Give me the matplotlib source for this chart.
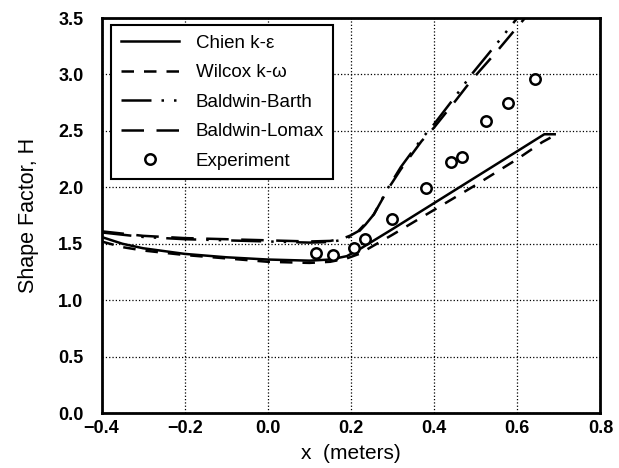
import matplotlib
matplotlib.use('Agg')
from matplotlib import pyplot as plt

plt.rcParams['font.family'] = ['Liberation Sans', 'DejaVu Sans']

# model predictions along the plate
chien_x = [-0.40, -0.35, -0.30, -0.20, -0.10, 0.00, 0.10, 0.15, 0.19, 0.22, 0.30, 0.40, 0.50, 0.60, 0.665, 0.69]
chien_y = [1.56, 1.50, 1.46, 1.41, 1.38, 1.36, 1.35, 1.36, 1.39, 1.45, 1.63, 1.86, 2.09, 2.32, 2.47, 2.47]

wilcox_x = [-0.40, -0.35, -0.30, -0.20, -0.10, 0.00, 0.10, 0.15, 0.19, 0.22, 0.30, 0.40, 0.50, 0.60, 0.66, 0.68]
wilcox_y = [1.52, 1.47, 1.44, 1.40, 1.37, 1.34, 1.33, 1.34, 1.37, 1.41, 1.58, 1.80, 2.02, 2.25, 2.40, 2.44]

barth_x = [-0.40, -0.30, -0.20, -0.10, 0.00, 0.10, 0.15, 0.18, 0.20, 0.217, 0.235, 0.255, 0.29, 0.32, 0.37, 0.40, 0.45, 0.49, 0.55, 0.60, 0.62]
barth_y = [1.60, 1.56, 1.54, 1.53, 1.52, 1.51, 1.515, 1.535, 1.565, 1.60, 1.67, 1.76, 2.00, 2.18, 2.43, 2.56, 2.80, 3.00, 3.27, 3.50, 3.58]

lomax_x = [-0.40, -0.30, -0.20, -0.10, 0.00, 0.10, 0.15, 0.18, 0.20, 0.217, 0.235, 0.255, 0.29, 0.32, 0.37, 0.40, 0.45, 0.49, 0.55, 0.60, 0.63]
lomax_y = [1.61, 1.57, 1.55, 1.54, 1.53, 1.52, 1.525, 1.545, 1.575, 1.61, 1.68, 1.76, 1.99, 2.16, 2.41, 2.53, 2.76, 2.95, 3.20, 3.42, 3.55]

# measured shape factor
exp_x = [0.116, 0.157, 0.207, 0.234, 0.299, 0.38, 0.44, 0.468, 0.525, 0.578, 0.643]
exp_y = [1.42, 1.40, 1.46, 1.54, 1.72, 1.99, 2.22, 2.27, 2.59, 2.75, 2.96]

fig = plt.figure(figsize=(6.19, 4.68), dpi=100)
ax = fig.add_axes([0.164, 0.1175, 0.806, 0.844])

lw = 1.8
ax.plot(chien_x, chien_y, color='black', lw=lw, ls='-', label='Chien k-\u03b5')
ax.plot(wilcox_x, wilcox_y, color='black', lw=lw, ls=(0, (5, 4)), label='Wilcox k-\u03c9')
ax.plot(barth_x, barth_y, color='black', lw=lw, ls=(0, (12, 4, 1, 4, 1, 4)), label='Baldwin-Barth')
ax.plot(lomax_x, lomax_y, color='black', lw=lw, ls=(0, (9, 5)), label='Baldwin-Lomax')
ax.plot(exp_x, exp_y, 'o', ms=7.5, mfc='white', mec='black', mew=1.8, label='Experiment')

ax.set_xlim(-0.4, 0.8)
ax.set_ylim(0.0, 3.5)
ax.set_xticks([-0.4, -0.2, 0.0, 0.2, 0.4, 0.6, 0.8])
ax.set_yticks([0.0, 0.5, 1.0, 1.5, 2.0, 2.5, 3.0, 3.5])
ax.set_xticklabels(['\u22120.4', '\u22120.2', '0.0', '0.2', '0.4', '0.6', '0.8'])
ax.set_yticklabels(['0.0', '0.5', '1.0', '1.5', '2.0', '2.5', '3.0', '3.5'])
ax.tick_params(length=0, labelsize=13)
ax.tick_params(axis='x', pad=5)
ax.tick_params(axis='y', pad=13)
for lab in ax.get_xticklabels() + ax.get_yticklabels():
    lab.set_fontweight('bold')

ax.grid(True, color='black', ls=':', lw=0.9)
for s in ax.spines.values():
    s.set_linewidth(2)

ax.set_xlabel('x  (meters)', fontsize=15, labelpad=5)
ax.set_ylabel('Shape Factor, H', fontsize=15.5, labelpad=14)

leg = ax.legend(loc='upper left', bbox_to_anchor=(0.02, 0.982), borderaxespad=0,
                fontsize=13.5, handlelength=3.1, handletextpad=0.9, labelspacing=0.66,
                borderpad=0.5, fancybox=False, framealpha=1, edgecolor='black')
leg.get_frame().set_linewidth(1.5)

plt.savefig('out.png', dpi=100)
